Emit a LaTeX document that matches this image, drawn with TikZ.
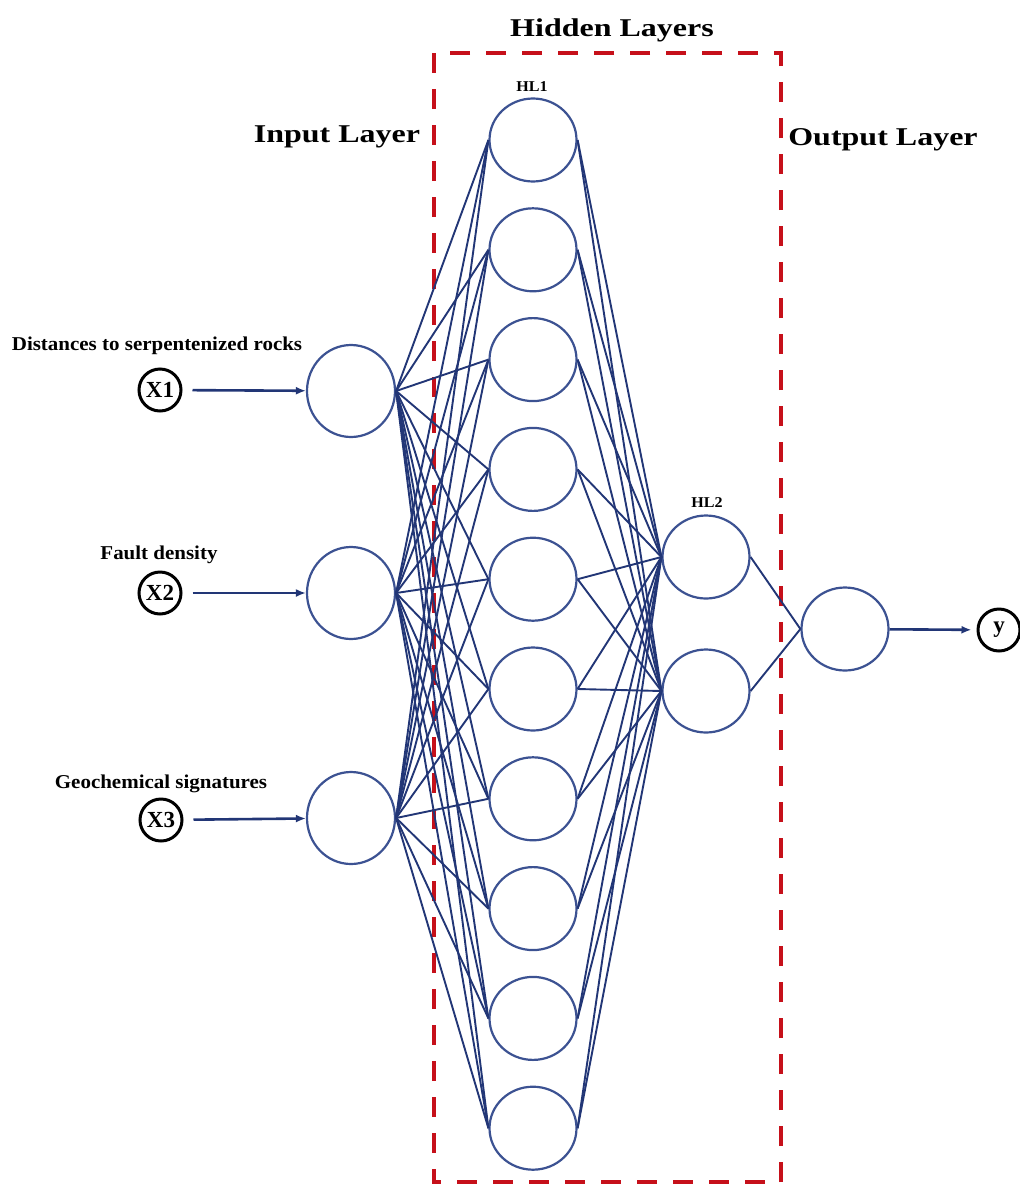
\documentclass[tikz,border=0pt]{standalone}
\usepackage{fontspec}
\setmainfont{Liberation Serif}
\newfontfamily\widefont[FakeStretch=1.25]{Liberation Serif}
\newfontfamily\lblfont[FakeStretch=1.07]{Liberation Serif}
\usetikzlibrary{shapes.geometric,arrows.meta}
\definecolor{netblue}{RGB}{60,82,146}
\definecolor{wireblue}{RGB}{34,54,118}
\definecolor{boxred}{RGB}{198,16,26}

\begin{document}
\begin{tikzpicture}[x=1pt,y=-1pt,
  neuron/.style={ellipse,draw=netblue,line width=2.2pt,fill=white,inner sep=0pt,
                 minimum width=87pt,minimum height=83pt},
  inneuron/.style={neuron,minimum width=88pt,minimum height=92pt},
  feat/.style={circle,draw=black,line width=3pt,fill=white,inner sep=0pt,
               minimum size=42pt,font=\fontsize{23}{23}\selectfont\bfseries},
  wire/.style={wireblue,line width=1.9pt},
  feed/.style={wireblue,line width=2.6pt,-{Latex[length=10pt,width=8pt]}},
  title/.style={anchor=base,font=\widefont\fontsize{25.6}{26}\selectfont\bfseries},
  caption/.style={anchor=base,font=\lblfont\fontsize{19.6}{20}\selectfont\bfseries},
  tag/.style={anchor=base,font=\lblfont\fontsize{15}{15}\selectfont\bfseries},
]
\useasboundingbox (0,0) rectangle (1020,1184);

% layer headings
\node[title] (thid) at (612,36) {Hidden Layers};
\node[title] (tin) at (337,142) {Input Layer};
\node[title] (tout) at (883,145) {Output Layer};

% hidden-layer frame
\draw[boxred,line width=4.6pt,dash pattern=on 20pt off 16pt] (434,53) rectangle (781,1182);

% input features
\node[caption] (c1) at (157,350) {Distances to serpentenized rocks};
\node[caption] (c2) at (159,559) {Fault density};
\node[caption] (c3) at (161,788) {Geochemical signatures};
\node[feat] (x1) at (160,390) {X1};
\node[feat] (x2) at (160,593) {X2};
\node[feat] (x3) at (161,820) {X3};

% input layer
\node[inneuron] (in1) at (351,391) {};
\node[inneuron] (in2) at (351,593) {};
\node[inneuron] (in3) at (351,818) {};

% first hidden layer
\foreach \i in {1,...,10}
  \node[neuron] (h\i) at (533,{140+(\i-1)*109.8}) {};
\node[tag] (l1) at (532,91) {HL1};

% second hidden layer
\node[neuron] (o1) at (706,557) {};
\node[neuron] (o2) at (706,691) {};
\node[tag] (l2) at (707,507) {HL2};

% output
\node[neuron] (out) at (845,629) {};
\node[feat] (yy) at (999,630) {y};

% weights
\foreach \a in {1,2,3}
  \foreach \b in {1,...,10}
    \draw[wire] (in\a.east) -- (h\b.west);
\foreach \b in {1,...,10}
  \foreach \c in {1,2}
    \draw[wire] (h\b.east) -- (o\c.west);
\draw[wire] (o1.east) -- (out.west);
\draw[wire] (o2.east) -- (out.west);

% feeds
\draw[feed,shorten <=10pt] (x1) -- (in1);
\draw[feed,shorten <=10pt] (x2) -- (in2);
\draw[feed,shorten <=10pt] (x3) -- (in3);
\draw[feed,shorten >=5pt] (out) -- (yy);
\end{tikzpicture}
\end{document}
